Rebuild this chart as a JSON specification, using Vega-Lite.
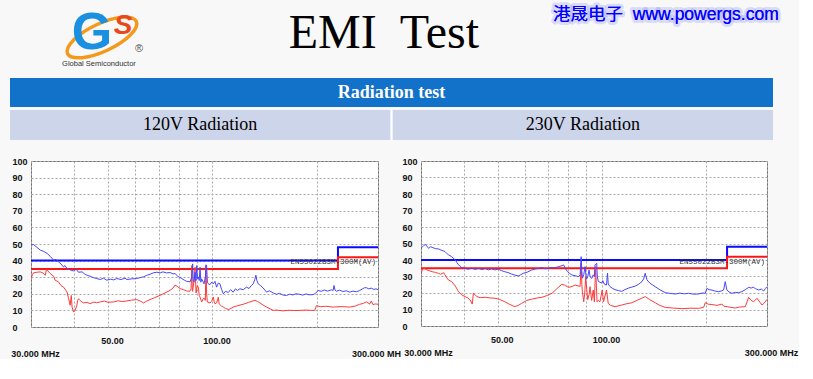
{
  "$schema": "https://vega.github.io/schema/vega-lite/v6.json",
  "background": "#f8f8f8",
  "padding": {"left": 10, "top": 0, "right": 0, "bottom": 0},
  "config": {
    "view": {"stroke": null},
    "axis": {
      "labelFont": "Liberation Sans, Arial, sans-serif",
      "labelFontWeight": "bold",
      "labelFontSize": 9,
      "labelColor": "#111111",
      "ticks": false,
      "domain": false,
      "grid": true,
      "gridColor": "#a8a8a8",
      "gridDash": [2, 2],
      "gridWidth": 1,
      "labelOverlap": false
    }
  },
  "datasets": {
    "lim": [
      {"s": "pk", "i": 0, "f": 30, "v": 40}, {"s": "pk", "i": 1, "f": 230, "v": 40}, {"s": "pk", "i": 2, "f": 230, "v": 48}, {"s": "pk", "i": 3, "f": 300, "v": 48},
      {"s": "av", "i": 0, "f": 30, "v": 35}, {"s": "av", "i": 1, "f": 230, "v": 35}, {"s": "av", "i": 2, "f": 230, "v": 42}, {"s": "av", "i": 3, "f": 300, "v": 42}
    ],
    "lb": [
      {"f":30,"v":49.3},{"f":30.5,"v":49.7},{"f":31.2,"v":48.0},{"f":31.9,"v":46.3},{"f":32.6,"v":45.6},{"f":33.4,"v":44.3},{"f":34.1,"v":42.5},{"f":34.9,"v":40.2},{"f":35.4,"v":40.8},{"f":36.0,"v":39.2},{"f":36.6,"v":38.0},{"f":37.2,"v":36.2},{"f":37.6,"v":37.0},{"f":38.1,"v":35.2},{"f":38.9,"v":34.4},{"f":39.8,"v":33.8},{"f":40.5,"v":34.8},{"f":41.1,"v":33.0},{"f":42.1,"v":33.2},{"f":42.8,"v":32.0},{"f":43.5,"v":31.2},{"f":44.4,"v":30.6},{"f":45.3,"v":29.8},{"f":46.4,"v":29.2},{"f":47.5,"v":28.6},{"f":48.5,"v":29.4},{"f":49.6,"v":28.2},{"f":50.8,"v":28.8},{"f":51.9,"v":28.4},{"f":53.0,"v":29.2},{"f":54.5,"v":28.6},{"f":56.0,"v":29.4},{"f":56.7,"v":28.6},{"f":58.5,"v":29.0},{"f":60.5,"v":29.2},{"f":62.0,"v":29.8},{"f":63.3,"v":30.2},{"f":64.5,"v":31.0},{"f":66.1,"v":31.8},{"f":67.5,"v":32.6},{"f":69.1,"v":33.0},{"f":70.7,"v":32.6},{"f":72.0,"v":33.2},{"f":73.8,"v":32.6},{"f":75.5,"v":32.8},{"f":77.0,"v":32.0},{"f":78.0,"v":32.2},{"f":79.5,"v":30.5},{"f":81.6,"v":29.2},{"f":83.0,"v":28.2},{"f":84.3,"v":27.5},{"f":86.2,"v":27.2},{"f":87.2,"v":30},{"f":87.7,"v":38.0},{"f":88.0,"v":28},{"f":88.5,"v":27},{"f":89.1,"v":33},{"f":89.7,"v":28},{"f":90.1,"v":37.0},{"f":90.6,"v":29},{"f":91.1,"v":30.2},{"f":91.6,"v":28},{"f":92.1,"v":36.0},{"f":92.6,"v":27},{"f":93.1,"v":29},{"f":94.1,"v":27.0},{"f":94.6,"v":26},{"f":95.4,"v":30},{"f":95.8,"v":37.5},{"f":96.2,"v":37.0},{"f":96.7,"v":27},{"f":97.3,"v":26.0},{"f":98.4,"v":25.5},{"f":99.5,"v":27},{"f":100.6,"v":26.0},{"f":101.7,"v":27.5},{"f":102.8,"v":24.0},{"f":104.0,"v":26.5},{"f":105.1,"v":26.0},{"f":106.3,"v":22.5},{"f":107.5,"v":20.0},{"f":109.0,"v":21.5},{"f":111.1,"v":20.8},{"f":112.8,"v":22.5},{"f":114.8,"v":21.0},{"f":116.5,"v":23.0},{"f":118.0,"v":22.0},{"f":120,"v":23.0},{"f":122.7,"v":22.5},{"f":125.4,"v":24.0},{"f":127.5,"v":23.2},{"f":129.5,"v":25.0},{"f":131.1,"v":26.0},{"f":132.4,"v":28.5},{"f":133.4,"v":31.2},{"f":134.3,"v":28.0},{"f":135.5,"v":26.0},{"f":137.5,"v":25.0},{"f":140.0,"v":23.5},{"f":143.2,"v":21.0},{"f":146.0,"v":21.8},{"f":149.7,"v":20.5},{"f":153.0,"v":19.7},{"f":156.0,"v":20.3},{"f":159.9,"v":19.2},{"f":163.5,"v":19.0},{"f":167.0,"v":19.8},{"f":170.5,"v":19.3},{"f":174.0,"v":20.0},{"f":178.6,"v":19.7},{"f":182.0,"v":19.2},{"f":186.0,"v":19.9},{"f":190.0,"v":19.4},{"f":195.0,"v":19.5},{"f":198.0,"v":20.2},{"f":201.6,"v":22.0},{"f":206.0,"v":21.5},{"f":210.0,"v":22.3},{"f":215.0,"v":21.6},{"f":220.0,"v":22.4},{"f":222.7,"v":22.0},{"f":224.1,"v":25.0},{"f":225.5,"v":22.3},{"f":227.6,"v":21.5},{"f":232.0,"v":22.2},{"f":238.0,"v":21.4},{"f":243.0,"v":21.8},{"f":248.6,"v":21.0},{"f":254.0,"v":21.6},{"f":260.0,"v":21.2},{"f":265.7,"v":22.0},{"f":270.0,"v":22.8},{"f":274.0,"v":23.6},{"f":277.7,"v":23.7},{"f":282.0,"v":23.0},{"f":287.0,"v":23.4},{"f":292.0,"v":22.6},{"f":296.0,"v":23.0},{"f":300,"v":22.5}
    ],
    "lr": [
      {"f":30,"v":29.2},{"f":30.3,"v":31.5},{"f":30.5,"v":32.6},{"f":31.2,"v":33.0},{"f":31.9,"v":33.2},{"f":32.5,"v":32.5},{"f":33.0,"v":31.2},{"f":33.2,"v":34.5},{"f":33.4,"v":34.2},{"f":34.1,"v":32.2},{"f":34.9,"v":30.5},{"f":35.2,"v":28.2},{"f":36.0,"v":27.2},{"f":36.6,"v":25.0},{"f":37.2,"v":24.1},{"f":38.1,"v":21.1},{"f":38.5,"v":17.1},{"f":38.9,"v":13.1},{"f":39.2,"v":19.0},{"f":39.4,"v":12.0},{"f":39.8,"v":9.0},{"f":40.2,"v":10.0},{"f":40.6,"v":12.5},{"f":40.9,"v":16.0},{"f":41.1,"v":17.0},{"f":41.8,"v":15.5},{"f":42.5,"v":14.5},{"f":43.5,"v":14.8},{"f":44.4,"v":14.1},{"f":45.5,"v":15.0},{"f":46.4,"v":14.6},{"f":47.5,"v":15.1},{"f":48.8,"v":15.6},{"f":50.0,"v":14.9},{"f":51.9,"v":15.1},{"f":53.5,"v":15.8},{"f":55.0,"v":15.3},{"f":56.7,"v":15.7},{"f":58.5,"v":16.2},{"f":60.5,"v":16.5},{"f":62.0,"v":15.6},{"f":63.3,"v":14.5},{"f":64.5,"v":15.5},{"f":66.1,"v":16.5},{"f":68.0,"v":17.6},{"f":70.7,"v":19.1},{"f":73.0,"v":20.5},{"f":75.5,"v":22.1},{"f":77.0,"v":23.5},{"f":78.0,"v":25.2},{"f":79.2,"v":24.5},{"f":80.7,"v":23.1},{"f":82.5,"v":22.5},{"f":84.3,"v":21.7},{"f":86.0,"v":21.5},{"f":86.8,"v":23},{"f":87.2,"v":37.0},{"f":87.5,"v":22},{"f":87.7,"v":21.5},{"f":88.5,"v":28},{"f":89.1,"v":36.0},{"f":89.7,"v":20.5},{"f":90.4,"v":25},{"f":91.1,"v":24.0},{"f":91.6,"v":19},{"f":92.1,"v":18.0},{"f":93.1,"v":15.1},{"f":94.1,"v":17},{"f":94.6,"v":17.5},{"f":95.4,"v":16},{"f":95.8,"v":37.0},{"f":96.2,"v":20},{"f":96.7,"v":15.1},{"f":98.4,"v":14.5},{"f":99.5,"v":15.5},{"f":100.6,"v":18.0},{"f":101.2,"v":15},{"f":101.7,"v":14.0},{"f":102.8,"v":14.5},{"f":104.0,"v":18.0},{"f":104.5,"v":14},{"f":105.1,"v":13.5},{"f":106.3,"v":12.5},{"f":107.5,"v":12.0},{"f":109.0,"v":11.2},{"f":111.1,"v":10.5},{"f":113.0,"v":11.2},{"f":114.8,"v":12.0},{"f":118.0,"v":12.8},{"f":122.7,"v":13.7},{"f":127.0,"v":14.8},{"f":132.5,"v":16.1},{"f":135.0,"v":15.3},{"f":137.0,"v":14.5},{"f":140.0,"v":13.2},{"f":143.2,"v":12.0},{"f":146.5,"v":11.0},{"f":149.7,"v":10.0},{"f":153.0,"v":10.2},{"f":159.9,"v":9.7},{"f":166.0,"v":10.1},{"f":172.0,"v":9.9},{"f":178.6,"v":10.0},{"f":186.0,"v":10.2},{"f":192.0,"v":10.0},{"f":197.2,"v":10.0},{"f":199.4,"v":12.9},{"f":205.0,"v":12.2},{"f":212.0,"v":12.5},{"f":222.7,"v":12.0},{"f":235.0,"v":12.3},{"f":248.6,"v":12.0},{"f":258.0,"v":12.6},{"f":265.7,"v":13.7},{"f":272.0,"v":14.2},{"f":277.7,"v":15.1},{"f":283.9,"v":13.8},{"f":287.0,"v":15.7},{"f":290.2,"v":13.5},{"f":295.0,"v":13.9},{"f":300,"v":13.7}
    ],
    "rb": [
      {"f":30,"v":47.1},{"f":30.3,"v":48.0},{"f":30.6,"v":48.9},{"f":30.9,"v":49.5},{"f":31.2,"v":48.2},{"f":31.6,"v":47.1},{"f":32.0,"v":48.0},{"f":32.3,"v":47.7},{"f":33.0,"v":46.9},{"f":33.7,"v":46.7},{"f":34.3,"v":46.0},{"f":34.9,"v":45.4},{"f":35.2,"v":45.1},{"f":35.6,"v":44.0},{"f":36.0,"v":43.2},{"f":36.8,"v":42.0},{"f":37.7,"v":40.0},{"f":38.1,"v":38.5},{"f":38.5,"v":37.0},{"f":39.0,"v":36.2},{"f":39.4,"v":35.0},{"f":39.8,"v":35.6},{"f":40.2,"v":35.0},{"f":41.0,"v":34.4},{"f":42.0,"v":35.1},{"f":43.0,"v":34.3},{"f":44.0,"v":34.9},{"f":45.0,"v":34.2},{"f":46.0,"v":34.8},{"f":47.0,"v":34.0},{"f":48.0,"v":34.6},{"f":49.1,"v":34.0},{"f":50.1,"v":34.5},{"f":51.2,"v":33.6},{"f":52.4,"v":32.9},{"f":53.5,"v":32.4},{"f":54.8,"v":31.5},{"f":56.0,"v":30.9},{"f":57.3,"v":30.3},{"f":58.2,"v":31.0},{"f":59.2,"v":31.9},{"f":60.8,"v":32.6},{"f":62.6,"v":33.9},{"f":64.0,"v":34.5},{"f":65.6,"v":34.9},{"f":67.0,"v":35.4},{"f":68.5,"v":34.7},{"f":70.1,"v":34.9},{"f":71.5,"v":35.5},{"f":73.0,"v":35.2},{"f":75.0,"v":36.0},{"f":76.2,"v":36.4},{"f":77.5,"v":37.0},{"f":78.4,"v":35.0},{"f":79.5,"v":33.0},{"f":80.5,"v":32.0},{"f":81.9,"v":30.9},{"f":83.7,"v":30.5},{"f":85.6,"v":29.9},{"f":86.5,"v":31},{"f":87.1,"v":42.0},{"f":87.5,"v":33},{"f":87.8,"v":29.0},{"f":88.6,"v":31},{"f":89.4,"v":36.0},{"f":90.0,"v":30},{"f":90.4,"v":28.6},{"f":91.0,"v":30},{"f":91.8,"v":34.0},{"f":92.4,"v":30},{"f":93.4,"v":28.8},{"f":94.4,"v":31},{"f":95.1,"v":30},{"f":95.5,"v":37.0},{"f":96.6,"v":38.0},{"f":97.0,"v":30},{"f":97.6,"v":27.0},{"f":98.7,"v":26.5},{"f":99.8,"v":26.0},{"f":100.6,"v":27.5},{"f":101.5,"v":25.5},{"f":103.1,"v":24.8},{"f":103.8,"v":32.0},{"f":104.3,"v":25.5},{"f":105.4,"v":24.0},{"f":107.0,"v":23.0},{"f":109.1,"v":22.0},{"f":111.5,"v":21.5},{"f":114.0,"v":21.0},{"f":116.5,"v":22.0},{"f":119.4,"v":23.0},{"f":122.1,"v":23.6},{"f":124.8,"v":24.2},{"f":127.5,"v":25.2},{"f":130.5,"v":26.9},{"f":132.0,"v":28.5},{"f":133.4,"v":32.0},{"f":134.9,"v":28.0},{"f":137.5,"v":26.0},{"f":142.6,"v":23.8},{"f":147.0,"v":22.0},{"f":152.4,"v":20.2},{"f":157.0,"v":19.8},{"f":162.9,"v":19.4},{"f":168.0,"v":19.9},{"f":173.0,"v":19.5},{"f":178.0,"v":19.8},{"f":184.0,"v":19.3},{"f":190.3,"v":19.4},{"f":195.0,"v":20.0},{"f":198.9,"v":19.8},{"f":201.1,"v":22.8},{"f":204.0,"v":22.0},{"f":207.9,"v":21.8},{"f":212.0,"v":21.2},{"f":217.4,"v":20.8},{"f":222.0,"v":21.3},{"f":224.7,"v":21.8},{"f":227.2,"v":26.9},{"f":229.7,"v":21.8},{"f":233.0,"v":20.6},{"f":237.5,"v":19.8},{"f":243.0,"v":20.4},{"f":248.0,"v":20.2},{"f":253.8,"v":20.8},{"f":259.6,"v":22.0},{"f":265.5,"v":23.4},{"f":270.0,"v":23.0},{"f":274.0,"v":23.5},{"f":278.0,"v":22.6},{"f":283.8,"v":21.8},{"f":289.0,"v":22.4},{"f":293.4,"v":21.2},{"f":297.0,"v":22.8},{"f":300,"v":23.8}
    ],
    "rr": [
      {"f":30,"v":31.9},{"f":30.3,"v":34.0},{"f":30.5,"v":35.0},{"f":30.9,"v":34.5},{"f":31.2,"v":34.0},{"f":31.8,"v":33.4},{"f":32.3,"v":32.9},{"f":33.0,"v":32.5},{"f":33.7,"v":31.9},{"f":34.2,"v":31.4},{"f":34.9,"v":32.3},{"f":35.4,"v":30.0},{"f":36.0,"v":27.9},{"f":36.8,"v":26.9},{"f":37.7,"v":24.2},{"f":38.5,"v":20.8},{"f":39.4,"v":18.8},{"f":40.2,"v":17.8},{"f":41.0,"v":17.0},{"f":41.6,"v":15.8},{"f":42.2,"v":13.3},{"f":42.5,"v":19.8},{"f":43.0,"v":19.0},{"f":43.5,"v":17.8},{"f":44.5,"v":17.2},{"f":46.0,"v":17.4},{"f":47.5,"v":17.0},{"f":49.1,"v":16.8},{"f":50.5,"v":16.2},{"f":52.4,"v":14.7},{"f":54.0,"v":13.2},{"f":56.0,"v":11.7},{"f":57.3,"v":12.5},{"f":58.6,"v":13.7},{"f":60.6,"v":15.5},{"f":62.6,"v":16.2},{"f":65.0,"v":17.0},{"f":67.1,"v":17.4},{"f":69.5,"v":18.5},{"f":71.7,"v":19.8},{"f":74.0,"v":22.5},{"f":76.6,"v":25.3},{"f":78.0,"v":24.8},{"f":80.1,"v":23.4},{"f":82.0,"v":24.0},{"f":83.7,"v":24.8},{"f":86.5,"v":24.0},{"f":87.1,"v":38.0},{"f":87.5,"v":25},{"f":87.8,"v":21.0},{"f":88.6,"v":14.7},{"f":89.2,"v":20},{"f":89.8,"v":30.0},{"f":90.4,"v":22},{"f":91.0,"v":16.0},{"f":91.8,"v":19},{"f":92.4,"v":23.8},{"f":93.4,"v":15.5},{"f":94.4,"v":21.8},{"f":95.1,"v":14.7},{"f":95.9,"v":36.0},{"f":96.8,"v":14.7},{"f":97.6,"v":15.5},{"f":98.7,"v":14.7},{"f":100.2,"v":21.8},{"f":101.1,"v":14.7},{"f":103.1,"v":21.8},{"f":104.3,"v":13.7},{"f":106.0,"v":12.5},{"f":109.1,"v":11.7},{"f":114.0,"v":12.7},{"f":118.0,"v":13.5},{"f":122.1,"v":14.1},{"f":127.0,"v":15.8},{"f":133.4,"v":17.8},{"f":137.5,"v":16.0},{"f":142.6,"v":14.1},{"f":147.0,"v":12.5},{"f":152.4,"v":11.3},{"f":160.0,"v":10.9},{"f":170.3,"v":10.5},{"f":180.0,"v":10.8},{"f":190.3,"v":10.7},{"f":196.8,"v":11.3},{"f":198.9,"v":14.1},{"f":203.0,"v":13.2},{"f":207.9,"v":13.0},{"f":215.0,"v":12.5},{"f":222.2,"v":13.3},{"f":225.0,"v":12.0},{"f":230.0,"v":11.7},{"f":237.5,"v":11.2},{"f":242.8,"v":10.9},{"f":250.0,"v":11.5},{"f":259.6,"v":11.7},{"f":265.5,"v":17.4},{"f":270.0,"v":15.5},{"f":274.5,"v":14.7},{"f":280.7,"v":16.8},{"f":286.0,"v":14.5},{"f":290.2,"v":12.7},{"f":295.0,"v":14.0},{"f":300,"v":16.2}
    ]
  },
  "spacing": 16,
  "vconcat": [
    {
      "spacing": 3,
      "vconcat": [
        {
          "width": 763,
          "height": 75,
          "view": {"stroke": null},
          "encoding": {
            "x": {"field": "slot", "type": "nominal", "scale": {"type": "point", "domain": ["logo", "title", "url"], "padding": 0.353, "align": 0.462}, "axis": null}
          },
          "layer": [
            {
              "data": {"values": [{"slot": "logo"}]},
              "mark": {"type": "point", "shape": "M -0.906 0.423 A 1 0.37 -25 0 1 0.906 -0.423 A 1 0.37 -25 0 1 -0.906 0.423 Z", "size": 5776, "filled": false, "color": "#f39a1e", "strokeWidth": 3.5, "opacity": 1}
            },
            {
              "data": {"values": [{"slot": "logo", "t": "G"}]},
              "mark": {"type": "text", "font": "Liberation Sans, Arial, sans-serif", "fontWeight": "bold", "fontSize": 52, "color": "#1b8fe0", "baseline": "alphabetic", "align": "center", "dx": -10, "dy": 11},
              "encoding": {"text": {"field": "t"}}
            },
            {
              "data": {"values": [{"slot": "logo", "t": "S"}]},
              "mark": {"type": "text", "font": "Liberation Sans, sans-serif", "fontWeight": "bold", "fontStyle": "italic", "fontSize": 28, "color": "#e8481c", "baseline": "alphabetic", "align": "center", "dx": 21, "dy": -4},
              "encoding": {"text": {"field": "t"}}
            },
            {
              "data": {"values": [{"slot": "logo", "t": "®"}]},
              "mark": {"type": "text", "font": "Liberation Sans, sans-serif", "fontSize": 11, "color": "#555555", "baseline": "alphabetic", "align": "center", "dx": 37, "dy": 14},
              "encoding": {"text": {"field": "t"}}
            },
            {
              "data": {"values": [{"slot": "logo", "t": "Global Semiconductor"}]},
              "mark": {"type": "text", "font": "Liberation Sans, sans-serif", "fontSize": 7.5, "color": "#333333", "baseline": "alphabetic", "align": "center", "dx": -3, "dy": 28},
              "encoding": {"text": {"field": "t"}}
            },
            {
              "data": {"values": [{"slot": "title", "t": "EMI\u00a0 Test"}]},
              "mark": {"type": "text", "font": "Liberation Serif, Times New Roman, serif", "fontSize": 48, "color": "#000000", "baseline": "alphabetic", "align": "center", "dy": 10.5},
              "encoding": {"text": {"field": "t"}}
            },
            {
              "data": {"values": [{"slot": "url", "t": "港晟电子\u00a0 www.powergs.com"}]},
              "mark": {"type": "text", "font": "Liberation Sans, Noto Sans CJK SC, sans-serif", "fontSize": 17.5, "fill": "#0000ff", "stroke": "#7070ff", "strokeWidth": 6, "strokeOpacity": 0.22, "strokeJoin": "round", "baseline": "alphabetic", "align": "center", "dy": -17.5},
              "encoding": {"text": {"field": "t"}}
            },
            {
              "data": {"values": [{"slot": "url", "t": "港晟电子\u00a0 www.powergs.com"}]},
              "mark": {"type": "text", "font": "Liberation Sans, Noto Sans CJK SC, sans-serif", "fontSize": 17.5, "fill": "#0000ff", "baseline": "alphabetic", "align": "center", "dy": -17.5},
              "encoding": {"text": {"field": "t"}}
            }
          ]
        },
        {
          "width": 763,
          "height": 29,
          "view": {"fill": "#1271c8", "stroke": null},
          "data": {"values": [{"t": "Radiation test"}]},
          "mark": {"type": "text", "font": "Liberation Serif, Times New Roman, serif", "fontWeight": "bold", "fontSize": 18, "color": "#ffffff", "baseline": "middle", "align": "center"},
          "encoding": {"text": {"field": "t"}}
        },
        {
          "width": 763,
          "height": 30,
          "view": {"fill": "#ffffff", "stroke": null},
          "data": {"values": [{"panel": "120V Radiation"}, {"panel": "230V Radiation"}]},
          "encoding": {
            "x": {"field": "panel", "type": "nominal", "scale": {"type": "band", "paddingInner": 0.006, "paddingOuter": 0}, "axis": null}
          },
          "layer": [
            {"mark": {"type": "rect", "color": "#cdd5ea"}},
            {
              "mark": {"type": "text", "font": "Liberation Serif, Times New Roman, serif", "fontSize": 18, "color": "#000000", "baseline": "middle", "align": "center"},
              "encoding": {"text": {"field": "panel"}}
            }
          ]
        }
      ]
    },
    {
      "spacing": -1,
      "hconcat": [
        {
          "width": 1,
          "height": 1,
          "data": {"values": []},
          "mark": {"type": "point", "opacity": 0}
        },
        {
          "width": 347,
          "height": 166,
          "view": {"fill": "#ffffff", "stroke": "#707070", "strokeWidth": 1},
          "encoding": {
            "x": {
              "field": "f", "type": "quantitative",
              "scale": {"type": "log", "domain": [30, 300], "nice": false},
              "axis": {
                "title": null,
                "values": [30, 40, 50, 60, 70, 80, 90, 100, 200, 300],
                "labelExpr": "datum.value == 50 ? '50.00' : datum.value == 100 ? '100.00' : datum.value == 30 ? ['', '30.000 MHz'] : datum.value == 300 ? ['', '300.000 MH'] : ''",
                "labelBaseline": "top", "labelPadding": 9, "labelLineHeight": 13,
                "labelFlush": false, "labelBound": false,
                "labelOffset": {"condition": {"test": "datum.value == 300", "value": -2}, "value": 4}
              }
            },
            "y": {
              "field": "v", "type": "quantitative",
              "scale": {"domain": [0, 100], "nice": false, "zero": false},
              "axis": {
                "title": null,
                "values": [0, 10, 20, 30, 40, 50, 60, 70, 80, 90, 100],
                "labelAlign": "left", "labelPadding": 19, "labelBaseline": "middle"
              }
            }
          },
          "layer": [
            {
              "data": {"name": "lim"},
              "mark": {"type": "line", "strokeWidth": 2, "clip": true},
              "encoding": {
                "color": {"field": "s", "type": "nominal", "scale": {"domain": ["pk", "av"], "range": ["#0a0aff", "#ff1414"]}, "legend": null},
                "order": {"field": "i", "type": "quantitative"}
              }
            },
            {
              "data": {"name": "lr"},
              "mark": {"type": "line", "strokeWidth": 1, "color": "#ff3b3b", "clip": true}
            },
            {
              "data": {"name": "lb"},
              "mark": {"type": "line", "strokeWidth": 1, "color": "#4646ff", "clip": true}
            },
            {
              "data": {"values": [{"f": 300, "v": 39, "t": "EN55022B3M-300M(AV)"}]},
              "mark": {"type": "text", "font": "Liberation Mono, DejaVu Sans Mono, monospace", "fontSize": 7.5, "color": "#303030", "align": "right", "baseline": "middle", "dx": -2},
              "encoding": {"text": {"field": "t"}}
            }
          ]
        },
        {
          "width": 346,
          "height": 165,
          "view": {"fill": "#ffffff", "stroke": "#707070", "strokeWidth": 1},
          "encoding": {
            "x": {
              "field": "f", "type": "quantitative",
              "scale": {"type": "log", "domain": [30, 300], "nice": false},
              "axis": {
                "title": null,
                "values": [30, 40, 50, 60, 70, 80, 90, 100, 200, 300],
                "labelExpr": "datum.value == 50 ? '50.00' : datum.value == 100 ? '100.00' : datum.value == 30 ? ['', '30.000 MHz'] : datum.value == 300 ? ['', '300.000 MHz'] : ''",
                "labelBaseline": "top", "labelPadding": 9, "labelLineHeight": 13,
                "labelFlush": false, "labelBound": false,
                "labelOffset": {"condition": {"test": "datum.value == 30", "value": 7}, "value": 4}
              }
            },
            "y": {
              "field": "v", "type": "quantitative",
              "scale": {"domain": [0, 100], "nice": false, "zero": false},
              "axis": {
                "title": null,
                "values": [0, 10, 20, 30, 40, 50, 60, 70, 80, 90, 100],
                "labelAlign": "left", "labelPadding": 19, "labelBaseline": "middle"
              }
            }
          },
          "layer": [
            {
              "data": {"name": "lim"},
              "mark": {"type": "line", "strokeWidth": 2, "clip": true},
              "encoding": {
                "color": {"field": "s", "type": "nominal", "scale": {"domain": ["pk", "av"], "range": ["#0a0aff", "#ff1414"]}, "legend": null},
                "order": {"field": "i", "type": "quantitative"}
              }
            },
            {
              "data": {"name": "rr"},
              "mark": {"type": "line", "strokeWidth": 1, "color": "#ff3b3b", "clip": true}
            },
            {
              "data": {"name": "rb"},
              "mark": {"type": "line", "strokeWidth": 1, "color": "#4646ff", "clip": true}
            },
            {
              "data": {"values": [{"f": 300, "v": 39, "t": "EN55022B3M-300M(AV)"}]},
              "mark": {"type": "text", "font": "Liberation Mono, DejaVu Sans Mono, monospace", "fontSize": 7.5, "color": "#303030", "align": "right", "baseline": "middle", "dx": -2},
              "encoding": {"text": {"field": "t"}}
            }
          ]
        }
      ]
    }
  ]
}
